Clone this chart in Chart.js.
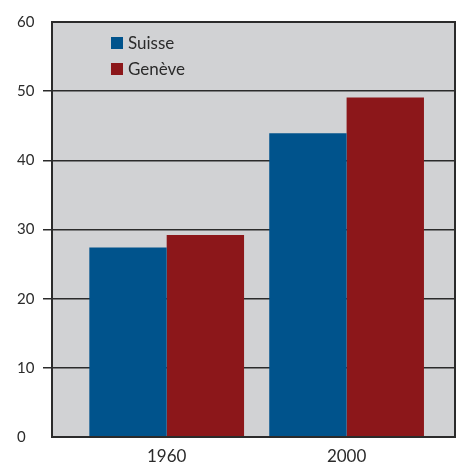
<!DOCTYPE html>
<html>
<head>
<meta charset="utf-8">
<script src="https://cdn.jsdelivr.net/npm/chart.js@4/dist/chart.umd.min.js"></script>
<style>
  html, body { margin: 0; padding: 0; background: #ffffff; }
  #wrap { width: 462px; height: 464px; }
</style>
</head>
<body>
<div id="wrap"><canvas id="chart"></canvas></div>
<script>
const years = [1960, 2000];
const suisse = [27.4, 43.9];
const geneve = [29.2, 49.1];
const yTicks = [0, 10, 20, 30, 40, 50, 60];

const ink = '#2b2b2b';
const font = 'Lato, "Open Sans", sans-serif';

// grey plot box + frame + legend inside the box
const plotBox = {
  id: 'plotBox',
  beforeDraw(chart) {
    const a = chart.chartArea, ctx = chart.ctx;
    ctx.save();
    ctx.fillStyle = '#d1d2d4';
    ctx.fillRect(a.left, a.top, a.right - a.left, a.bottom - a.top);
    ctx.restore();
  },
  afterDatasetsDraw(chart) {
    const a = chart.chartArea, ctx = chart.ctx;
    ctx.save();
    ctx.strokeStyle = ink;
    ctx.lineWidth = 2;
    ctx.strokeRect(a.left, a.top, a.right - a.left, a.bottom - a.top);

    ctx.font = '17px ' + font;
    ctx.textBaseline = 'middle';
    chart.data.datasets.forEach((ds, i) => {
      const x = a.left + 59, y = a.top + 21 + i * 26;
      ctx.fillStyle = ds.backgroundColor;
      ctx.fillRect(x, y - 6, 12, 12);
      ctx.fillStyle = ink;
      ctx.fillText(ds.label, x + 17, y + 1);
    });
    ctx.restore();
  }
};

new Chart(document.getElementById('chart'), {
  type: 'bar',
  data: {
    datasets: [
      {
        label: 'Suisse',
        data: years.map((yr, i) => ({ x: yr, y: suisse[i] })),
        backgroundColor: '#00538c',
      },
      {
        label: 'Genève',
        data: years.map((yr, i) => ({ x: yr, y: geneve[i] })),
        backgroundColor: '#8c171a',
      },
    ],
  },
  options: {
    responsive: true,
    maintainAspectRatio: false,
    animation: false,
    barPercentage: 1,
    categoryPercentage: 0.86,
    layout: { padding: { left: 17, top: 22, right: 7, bottom: 0 } },
    plugins: {
      legend: { display: false },
      tooltip: { enabled: false },
    },
    scales: {
      x: {
        type: 'linear',
        offset: false,
        min: 1934.5,
        max: 2024.1,
        grid: { display: false, drawTicks: false },
        border: { display: false },
        afterBuildTicks(scale) {
          scale.ticks = years.map(v => ({ value: v }));
        },
        afterFit(scale) { scale.height = 27; },
        ticks: {
          color: ink,
          font: { family: font, size: 17 },
          padding: 9,
          callback: v => String(v),
        },
      },
      y: {
        min: 0,
        max: 60,
        afterBuildTicks(scale) {
          scale.ticks = yTicks.map(v => ({ value: v }));
        },
        afterFit(scale) { scale.width = 35; },
        border: { display: false },
        grid: {
          color: c => (c.tick && (c.tick.value === 0 || c.tick.value === 60)) ? 'rgba(0,0,0,0)' : ink,
          lineWidth: 1.5,
          tickLength: 9,
        },
        ticks: {
          color: ink,
          crossAlign: 'far',
          font: { family: font, size: 15 },
        },
      },
    },
  },
  plugins: [plotBox],
});
</script>
</body>
</html>
